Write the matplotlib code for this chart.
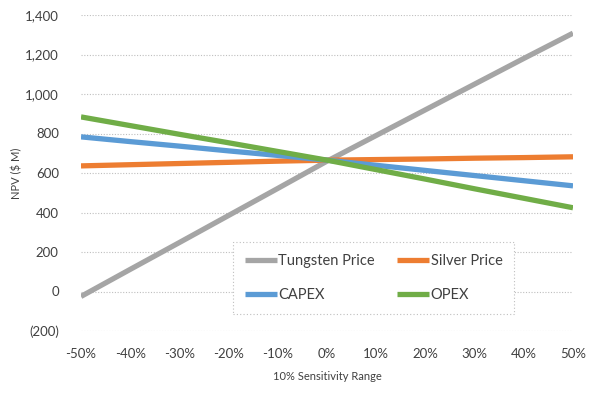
import matplotlib
matplotlib.use("Agg")
import matplotlib.pyplot as plt
from matplotlib.ticker import FuncFormatter, FixedLocator

x_pct = [-50, -40, -30, -20, -10, 0, 10, 20, 30, 40, 50]
tungsten = [-25, 112, 248, 385, 522, 660, 790, 920, 1050, 1180, 1308]
silver = [636, 642, 648, 654, 660, 665, 668, 671, 675, 678, 682]
capex = [783, 759, 736, 712, 689, 665, 639, 613, 587, 561, 535]
opex = [884, 840, 796, 753, 709, 665, 617, 569, 520, 472, 424]

series = [("Tungsten Price", tungsten, "#A5A5A5"),
          ("Silver Price", silver, "#ED7D31"),
          ("CAPEX", capex, "#5B9BD5"),
          ("OPEX", opex, "#70AD47")]

plt.rcParams['font.family'] = ['Lato', 'DejaVu Sans']

fig = plt.figure(figsize=(6.02, 4.05), dpi=100)
ax = fig.add_axes([81/602, 1 - 331/405, (573-81)/602, (331-15)/405])

lines = {}
for name, vals, col in series:
    ln, = ax.plot(x_pct, vals, color=col, lw=3.8, label=name, solid_capstyle='butt')
    lines[name] = ln

ax.set_xlim(-50, 50)
ax.set_ylim(-200, 1400)
ax.yaxis.set_major_locator(FixedLocator(list(range(-200, 1401, 200))))
ax.xaxis.set_major_locator(FixedLocator(x_pct))

def yfmt(v, p):
    v = int(round(v))
    if v < 0:
        return "({:,})".format(-v)
    return "{:,}".format(v)

ax.yaxis.set_major_formatter(FuncFormatter(yfmt))
ax.xaxis.set_major_formatter(FuncFormatter(lambda v, p: "{:d}%".format(int(round(v)))))

ax.grid(axis='y', color='#BFBFBF', ls=(0, (1, 1.5)), lw=0.8)
ax.set_axisbelow(True)
for s in ax.spines.values():
    s.set_visible(False)
ax.tick_params(length=0, labelsize=9.5, colors='#404040')
ax.tick_params(axis='y', pad=16)
ax.tick_params(axis='x', pad=12)

ax.set_xlabel("10% Sensitivity Range", fontsize=8, color='#404040', labelpad=8)
ax.set_ylabel("NPV ($ M)", fontsize=8, color='#404040', labelpad=2)

order = ["Tungsten Price", "CAPEX", "Silver Price", "OPEX"]
leg = ax.legend([lines[n] for n in order], order,
                loc='upper left', bbox_to_anchor=((226-81)/492, (331-235)/316),
                ncol=2, frameon=True, fontsize=10.5, handlelength=2.2,
                handletextpad=0.1, columnspacing=1.5, labelspacing=1.4,
                borderpad=0.8, fancybox=False, labelcolor='#404040')
frame = leg.get_frame()
frame.set_edgecolor('#BFBFBF')
frame.set_linestyle((0, (1, 2)))
frame.set_linewidth(0.8)
frame.set_facecolor('white')
frame.set_alpha(1)

fig.savefig("out.png", dpi=100)
